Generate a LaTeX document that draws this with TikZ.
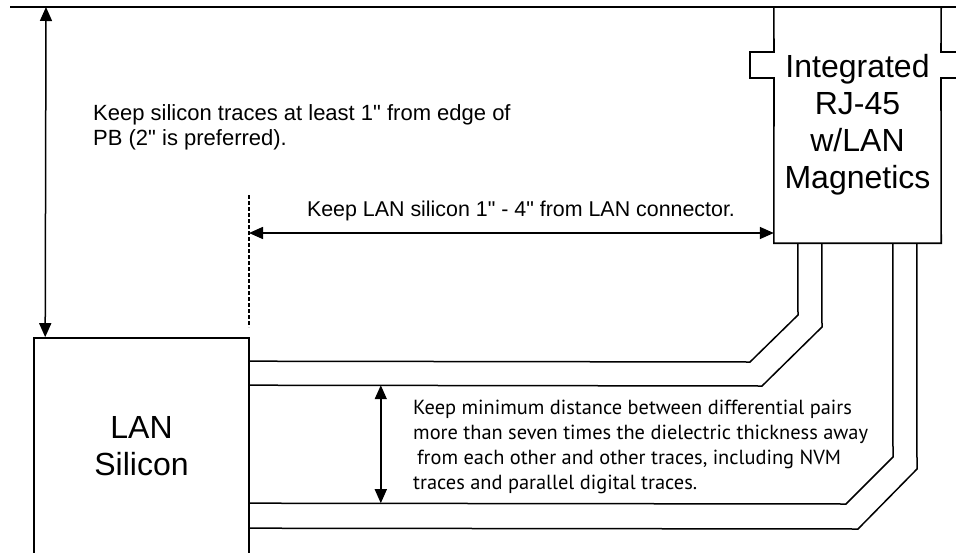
\documentclass[tikz,border=0pt]{standalone}
\usepackage{fontspec}
\setmainfont{Liberation Sans}
\newfontfamily\notefont{PT Sans}
\usetikzlibrary{arrows.meta}
\newcommand{\inchmark}{\textquotedbl}

\begin{document}
\begin{tikzpicture}[x=1pt, y=-1pt,
    block/.style={draw, line width=1.6pt, inner sep=0pt, align=center, font=\fontsize{32}{37}\selectfont},
    blocktext/.style={inner sep=0pt, align=center, font=\fontsize{32}{37}\selectfont},
    outline/.style={line width=1.6pt},
    trace/.style={line width=1.5pt},
    dimarrow/.style={{Triangle[length=14pt,width=12pt]}-{Triangle[length=14pt,width=12pt]}, line width=1.5pt},
    note/.style={anchor=north west, inner sep=0pt, align=left, font=\fontsize{22}{25}\selectfont}
  ]
  \useasboundingbox (0,0) rectangle (956,552);

  % board edge
  \draw[line width=1.8pt] (10,7) -- (970,7);

  % connector and silicon
  \node[blocktext, minimum width=167pt, minimum height=236pt] (rj45) at (857.5,125) {Integrated\\RJ-45\\w/LAN\\Magnetics};
  \draw[outline] (rj45.north west) -- (774,52) -- (750,52) -- (750,78) -- (774,78) -- (rj45.south west) -- (rj45.south east) -- (941,78) -- (970,78);
  \draw[outline] (rj45.north east) -- (941,52) -- (970,52);
  \node[block, minimum width=215pt, minimum height=216pt] (silicon) at (141.5,446) {LAN\\Silicon};

  % differential pairs
  \draw[trace] ([yshift=-24pt]silicon.north east) -- (750,362) -- (798,315) -- ([xshift=24pt]rj45.south west);
  \draw[trace] ([yshift=-48pt]silicon.north east) -- (762,386) -- (822,327) -- ([xshift=48pt]rj45.south west);
  \draw[trace] ([yshift=-166pt]silicon.north east) -- (846,504) -- (893,457) -- ([xshift=119pt]rj45.south west);
  \draw[trace] ([yshift=-191pt]silicon.north east) -- (858,529) -- (917,469) -- ([xshift=143pt]rj45.south west);

  % spacing rules
  \coordinate (pcbedge) at (46,7);
  \coordinate (keepout) at (249,233);
  \draw[dimarrow] (pcbedge) -- ([xshift=12pt]silicon.north west);
  \draw[line width=1.2pt, dash pattern=on 4pt off 2pt] (249,195) -- (249,327);
  \draw[dimarrow] (keepout) -- (keepout -| rj45.west);
  \draw[dimarrow] ([xshift=131pt,yshift=-48pt]silicon.north east) -- ([xshift=131pt,yshift=-166pt]silicon.north east);

  \node[note] (edgenote) at (93,104) {Keep silicon traces at least 1\inchmark{} from edge of\\PB (2\inchmark{} is preferred).};
  \node[note, anchor=base, font=\fontsize{21.4}{25}\selectfont] (distnote) at (521,216) {Keep LAN silicon 1\inchmark{} - 4\inchmark{} from LAN connector.};
  \node[note, font=\notefont\fontsize{20.4}{25}\selectfont] (pairnote) at (413,400) {Keep minimum distance between differential pairs\\more than seven times the dielectric thickness away\\\hspace*{4pt}from each other and other traces, including NVM\\traces and parallel digital traces.};
\end{tikzpicture}
\end{document}
